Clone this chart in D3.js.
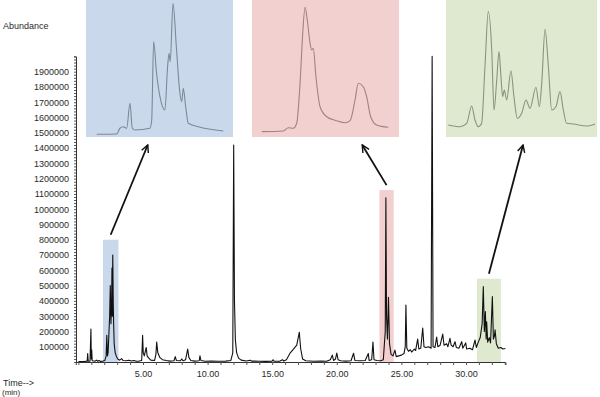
<!DOCTYPE html>
<html>
<head>
<meta charset="utf-8">
<script src="https://cdn.jsdelivr.net/npm/d3@7"></script>
<style>
body { margin: 0; background: #fff; }
text { font-family: "Liberation Sans", Arial, sans-serif; fill: #2a2a2a; }
</style>
</head>
<body>
<script>
// total ion chromatogram: retention time (min) and abundance (thousands)
const retentionTime = [
    0.0, 0.5, 0.68, 0.72, 0.76, 0.9, 0.97, 1.0, 1.03, 1.07, 1.3, 1.4, 1.5, 1.6, 1.7, 1.9,
    2.05, 2.15, 2.2, 2.25, 2.3, 2.42, 2.47, 2.52, 2.57, 2.6, 2.63, 2.66, 2.7, 2.73, 2.77, 2.85,
    2.95, 3.05, 3.2, 3.35, 3.45, 3.7, 3.9, 4.1, 4.3, 4.5, 4.7, 4.9, 4.97, 5.02, 5.1, 5.25,
    5.32, 5.45, 5.6, 5.9, 6.0, 6.06, 6.15, 6.3, 6.5, 6.8, 7.1, 7.4, 7.5, 7.58, 7.9, 8.0,
    8.1, 8.3, 8.46, 8.55, 8.7, 9.0, 9.35, 9.41, 9.48, 9.8, 10.3, 10.8, 11.4, 11.8, 11.95, 12.02,
    12.08, 12.15, 12.25, 12.4, 12.6, 13.0, 13.3, 13.4, 14.0, 14.5, 15.0, 15.06, 15.15, 15.6, 15.8, 15.9,
    16.1, 16.4, 16.6, 16.9, 17.1, 17.2, 17.35, 17.6, 18.2, 18.8, 19.2, 19.5, 19.65, 19.75, 19.9, 20.0,
    20.1, 20.3, 20.7, 21.1, 21.3, 21.4, 21.8, 22.2, 22.44, 22.5, 22.7, 22.8, 22.88, 23.1, 23.4, 23.6,
    23.75, 23.8, 23.85, 23.92, 24.0, 24.08, 24.2, 24.35, 24.5, 24.6, 24.8, 25.0, 25.2, 25.3, 25.35, 25.42,
    25.55, 25.7, 25.8, 26.0, 26.1, 26.26, 26.35, 26.5, 26.65, 26.75, 26.9, 27.1, 27.3, 27.38, 27.45, 27.6,
    27.73, 27.82, 28.0, 28.2, 28.3, 28.5, 28.6, 28.76, 28.85, 29.0, 29.15, 29.25, 29.45, 29.67, 29.75, 29.98,
    30.05, 30.3, 30.5, 30.7, 30.8, 30.95, 31.1, 31.25, 31.34, 31.42, 31.5, 31.56, 31.6, 31.68, 31.8, 31.9,
    32.04, 32.12, 32.2, 32.25, 32.35, 32.5, 32.7, 32.85, 33.05
];
const abundanceK = [
    3, 4, 5, 55, 5, 6, 215, 20, 80, 8, 6, 12, 5, 10, 4, 6,
    10, 40, 175, 40, 60, 300, 500, 250, 380, 615, 300, 700, 380, 250, 120, 60,
    35, 20, 12, 22, 10, 8, 12, 6, 10, 5, 6, 10, 175, 60, 40, 95,
    40, 25, 12, 10, 50, 130, 60, 30, 15, 10, 6, 8, 35, 10, 8, 20,
    8, 15, 85, 30, 10, 6, 8, 40, 10, 5, 6, 5, 6, 10, 60, 1420,
    400, 145, 60, 25, 12, 7, 12, 6, 5, 4, 6, 15, 5, 6, 15, 6,
    15, 60, 80, 110, 195, 90, 20, 8, 5, 6, 5, 15, 45, 10, 20, 58,
    15, 8, 6, 8, 57, 10, 8, 10, 55, 10, 15, 130, 15, 10, 8, 15,
    200, 1075, 300, 150, 423, 120, 50, 40, 78, 35, 40, 45, 55, 100, 373, 90,
    70, 80, 65, 85, 75, 150, 85, 90, 222, 100, 95, 100, 90, 2000, 100, 95,
    163, 100, 110, 183, 110, 120, 100, 155, 110, 100, 133, 95, 90, 133, 90, 125,
    85, 90, 80, 144, 95, 130, 160, 250, 493, 200, 330, 150, 263, 130, 160, 125,
    428, 150, 170, 210, 120, 90, 95, 85, 88
];

// highlighted windows (min) and the height of their boxes
const regionStart = [1.9, 23.3, 30.85];
const regionEnd = [3.1, 24.4, 32.7];
const regionTop = [800000, 1125000, 545000];

// enlarged traces: position across the window (%) and relative signal (%)
const blueInsetPos = [7.3, 20.9, 23.1, 25.4, 27.7, 29.9, 31.5, 33.3, 43.5, 44.7, 46.0, 48.0, 50.3, 53.7, 55.5, 56.5, 57.3, 59.2, 61.6, 63.9, 65.1, 66.2, 67.8, 69.6, 76.4, 93.4];
const blueInsetSignal = [2.0, 2.2, 6.4, 7.5, 6.4, 24.6, 6.4, 5.1, 6.4, 12.4, 69.6, 46.5, 29.4, 19.7, 51.3, 61.1, 55.0, 97.6, 63.5, 31.9, 25.8, 35.5, 22.1, 10.0, 7.5, 4.4];
const pinkInsetPos = [6.6, 21.3, 24.7, 28.1, 30.4, 32.7, 34.5, 36.1, 37.6, 39.5, 40.6, 41.7, 43.5, 46.3, 50.8, 57.6, 63.3, 66.7, 70.1, 72.3, 75.7, 78.0, 80.7, 84.8, 92.7];
const pinkInsetSignal = [3.9, 4.4, 6.8, 6.4, 10.0, 39.2, 75.7, 94.7, 85.4, 68.4, 63.5, 64.7, 44.0, 22.1, 14.8, 11.9, 10.4, 11.9, 27.0, 39.2, 36.7, 29.4, 14.8, 8.8, 7.1];
const greenInsetPos = [1.5, 9.3, 13.7, 17.0, 19.2, 21.4, 23.6, 25.8, 28.0, 30.3, 31.8, 33.6, 35.1, 36.4, 37.5, 38.6, 40.2, 43.0, 45.0, 47.2, 50.1, 53.0, 55.6, 59.6, 61.8, 63.4, 65.6, 67.8, 70.0, 72.8, 75.5, 77.7, 79.9, 84.3, 93.2, 98.7];
const greenInsetSignal = [8.8, 7.5, 10.0, 22.6, 12.4, 7.5, 10.0, 51.3, 91.5, 63.5, 19.7, 41.6, 62.3, 44.0, 29.4, 34.3, 27.0, 48.4, 29.4, 13.6, 17.3, 27.0, 20.9, 36.3, 22.1, 39.2, 78.6, 51.3, 19.7, 22.1, 33.1, 19.7, 10.0, 9.5, 8.0, 9.5];

// tick labels
const xTickLabels = [5, 10, 15, 20, 25, 30];
const yTickLabels = d3.range(100000, 1900001, 100000);

const chrom = retentionTime.map((t, i) => ({ t: t, a: abundanceK[i] * 1000 }));

const svg = d3.select("body").append("svg")
    .attr("width", 600)
    .attr("height", 397);

// scales
const xScale = d3.scaleLinear()
    .domain([-0.2, 33.05])
    .range([75.8, 505.4]);

const yScale = d3.scaleLinear()
    .domain([0, 2000000])
    .range([362, 56.4]);

// insets: box position, colours
const insets = [
    { x: 86, y: 0, w: 147, h: 137, fill: "#c9d9eb", line: "#7d8898", pos: blueInsetPos, sig: blueInsetSignal, arrowAt: 0.42 },
    { x: 252, y: 0, w: 147, h: 137, fill: "#f2d0d0", line: "#9c8484", pos: pinkInsetPos, sig: pinkInsetSignal, arrowAt: 0.75 },
    { x: 446, y: 0, w: 151, h: 137, fill: "#dfe9cf", line: "#8b937f", pos: greenInsetPos, sig: greenInsetSignal, arrowAt: 0.51 }
];

// highlight boxes behind the trace
regionStart.forEach((s, i) => {
    svg.append("rect")
        .attr("x", xScale(s))
        .attr("y", yScale(regionTop[i]))
        .attr("width", xScale(regionEnd[i]) - xScale(s))
        .attr("height", yScale(0) - yScale(regionTop[i]))
        .attr("fill", insets[i].fill);
});

// inset panels with enlarged traces
insets.forEach(ins => {
    svg.append("rect")
        .attr("x", ins.x).attr("y", ins.y)
        .attr("width", ins.w).attr("height", ins.h)
        .attr("fill", ins.fill);

    const ix = d3.scaleLinear().domain([0, 100]).range([ins.x, ins.x + ins.w]);
    const iy = d3.scaleLinear().domain([0, 100]).range([ins.y + ins.h, ins.y]);
    const insetLine = d3.line()
        .x(d => ix(d[0]))
        .y(d => iy(d[1]))
        .curve(d3.curveMonotoneX);

    svg.append("path")
        .datum(ins.pos.map((p, i) => [p, ins.sig[i]]))
        .attr("fill", "none")
        .attr("stroke", ins.line)
        .attr("stroke-width", 1.1)
        .attr("d", insetLine);
});

// arrow marker
svg.append("defs").append("marker")
    .attr("id", "head")
    .attr("viewBox", "0 0 10 10")
    .attr("refX", 9).attr("refY", 5)
    .attr("markerWidth", 5).attr("markerHeight", 5)
    .attr("markerUnits", "strokeWidth")
    .attr("orient", "auto")
    .append("path")
    .attr("d", "M1,1 L9,5 L1,9")
    .attr("fill", "none")
    .attr("stroke", "#111")
    .attr("stroke-width", 1.6);

// arrows from each box up to its inset
regionStart.forEach((s, i) => {
    const ins = insets[i];
    svg.append("line")
        .attr("x1", (xScale(s) + xScale(regionEnd[i])) / 2)
        .attr("y1", yScale(regionTop[i]) - 5)
        .attr("x2", ins.x + ins.w * ins.arrowAt)
        .attr("y2", ins.y + ins.h + 8)
        .attr("stroke", "#111")
        .attr("stroke-width", 1.8)
        .attr("marker-end", "url(#head)");
});

// the chromatogram
const line = d3.line()
    .x(d => xScale(d.t))
    .y(d => yScale(d.a))
    .curve(d3.curveLinear);

svg.append("path")
    .datum(chrom)
    .attr("fill", "none")
    .attr("stroke", "#111")
    .attr("stroke-width", 1.1)
    .attr("stroke-linejoin", "round")
    .attr("d", line);

// x axis: minute ticks, labels every 5
const xAxis = svg.append("g")
    .attr("transform", "translate(0,362)");
xAxis.call(d3.axisBottom(xScale).tickValues(d3.range(0, 34, 1)).tickSize(3).tickFormat(""))
    .call(g => g.select(".domain").attr("stroke", "#333"))
    .call(g => g.selectAll(".tick line").attr("stroke", "#555"));
xAxis.append("g")
    .call(d3.axisBottom(xScale).tickValues(xTickLabels).tickSize(0).tickPadding(9).tickFormat(d3.format(".2f")))
    .call(g => g.select(".domain").remove())
    .selectAll("text")
    .style("font-size", "9px")
    .style("font-family", "'Liberation Sans', Arial, sans-serif")
    .attr("fill", "#2a2a2a");

// y axis: small ticks every 20000, labels every 100000
const yAxis = svg.append("g")
    .attr("transform", "translate(76,0)");
yAxis.call(d3.axisLeft(yScale).tickValues(d3.range(0, 2000001, 20000)).tickSize(2).tickFormat(""))
    .call(g => g.select(".domain").attr("stroke", "#333"))
    .call(g => g.selectAll(".tick line").attr("stroke", "#555"));
yAxis.append("g")
    .call(d3.axisLeft(yScale).tickValues(yTickLabels).tickSize(0).tickPadding(7).tickFormat(d3.format("d")))
    .call(g => g.select(".domain").remove())
    .selectAll("text")
    .style("font-size", "9px")
    .style("font-family", "'Liberation Sans', Arial, sans-serif")
    .attr("fill", "#2a2a2a");

// axis titles
svg.append("text")
    .attr("x", 3)
    .attr("y", 29)
    .style("font-size", "9px")
    .text("Abundance");

svg.append("text")
    .attr("x", 3)
    .attr("y", 386)
    .style("font-size", "9px")
    .text("Time-->");

svg.append("text")
    .attr("x", 2)
    .attr("y", 395)
    .style("font-size", "8px")
    .text("(min)");
</script>
</body>
</html>
